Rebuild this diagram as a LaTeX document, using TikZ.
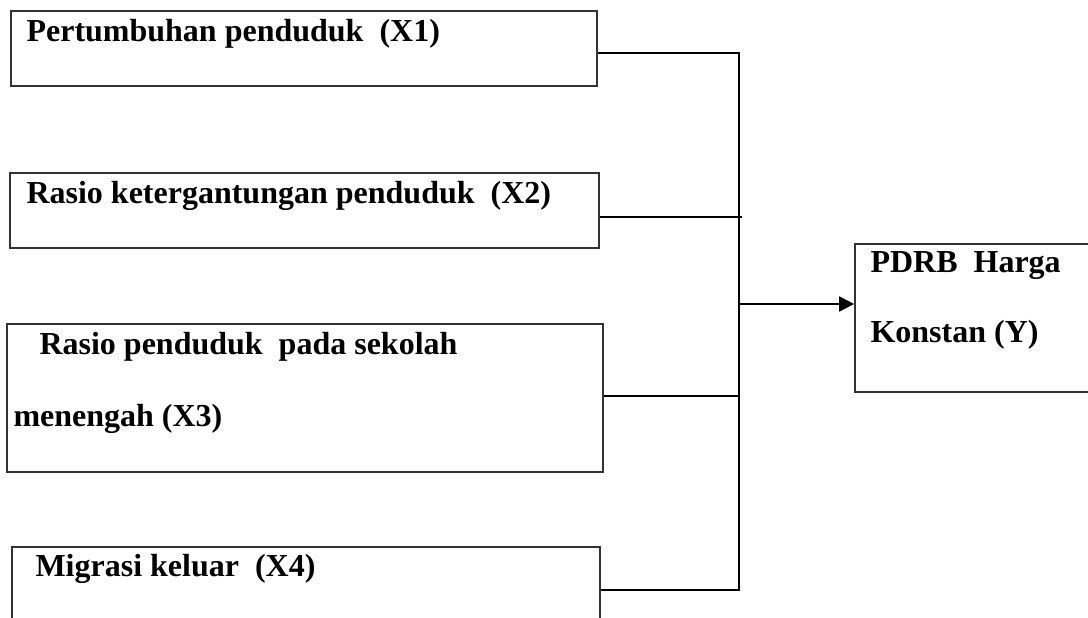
\documentclass[tikz,border=0pt]{standalone}
\usepackage{fontspec}
\setmainfont{Liberation Serif}
\usepackage{tikz}
\usetikzlibrary{arrows.meta,positioning}
\newcommand{\pxl}{0.375pt}
\tikzset{%
	varbox/.style   = {draw=black!80, line width=0.65pt, rectangle, inner sep=0pt},
	varlabel/.style = {inner sep=0pt, anchor=base west, font=\fontsize{12}{14}\selectfont\bfseries},
	link/.style     = {line width=0.75pt},
	arrow/.style    = {line width=0.75pt, -{Triangle[length=5.6pt,width=5.6pt]}},
}
\begin{document}
\begin{tikzpicture}[x=\pxl,y=-\pxl]
	\useasboundingbox (0,0) rectangle (1088,618);
	\clip (0,0) rectangle (1088,618);
	% variable boxes
	\node[varbox, minimum width=586*\pxl, minimum height=75*\pxl] (x1) at (304,48.5) {};
	\node[varbox, minimum width=589*\pxl, minimum height=75*\pxl] (x2) at (304.5,210.5) {};
	\node[varbox, minimum width=596*\pxl, minimum height=148*\pxl] (x3) at (305,398) {};
	\node[varbox, minimum width=588*\pxl, minimum height=106*\pxl] (x4) at (306,600) {}; % runs off the page
	\node[varbox, minimum width=245*\pxl, minimum height=148*\pxl] (y) at (977.5,318) {};
	% texts
	\node[varlabel] (t1) at (26,42) {Pertumbuhan penduduk\ \ (X1)};
	\node[varlabel] (t2) at (26,204) {Rasio ketergantungan penduduk\ \ (X2)};
	\node[varlabel] (t3a) at (39,355) {Rasio penduduk\ \ pada sekolah};
	\node[varlabel] (t3b) at (13,427) {menengah (X3)};
	\node[varlabel] (t4) at (35,577) {Migrasi keluar\ \ (X4)};
	\node[varlabel] (ty1) at (870,273) {PDRB\ \ Harga};
	\node[varlabel] (ty2) at (870,343) {Konstan (Y)};
	% connectors
	\coordinate (j1) at (739,52.7);
	\coordinate (j2) at (742,217);
	\coordinate (j3) at (739,396);
	\coordinate (j4) at (739,590);
	\coordinate (jy) at (739,304);
	\draw[link] (x1.east |- j1) -- (j1) -- (j4) -- (x4.east |- j4);
	\draw[link] (x2.east |- j2) -- (j2);
	\draw[link] (x3.east |- j3) -- (j3);
	\draw[arrow] (jy) -- (jy -| y.west);
\end{tikzpicture}
\end{document}
